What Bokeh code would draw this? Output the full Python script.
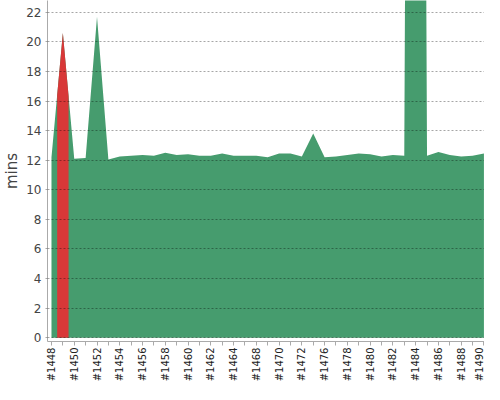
import math
from bokeh.plotting import figure
from bokeh.models import Range1d, FixedTicker
from bokeh.embed import file_html
from bokeh.resources import INLINE

# ---- data ----
builds = [1448, 1449, 1450, 1451, 1452, 1453, 1454, 1455, 1456, 1457,
          1458, 1459, 1460, 1461, 1462, 1463, 1464, 1466, 1468, 1469,
          1470, 1471, 1472, 1474, 1476, 1477, 1478, 1479, 1480, 1481,
          1482, 1483, 1484, 1485, 1486, 1487, 1488, 1489, 1490]
durations = [12.2, 20.6, 12.1, 12.15, 21.7, 12.05, 12.25, 12.3, 12.35, 12.3,
             12.5, 12.35, 12.4, 12.3, 12.3, 12.45, 12.3, 12.3, 12.3, 12.2,
             12.45, 12.45, 12.25, 13.8, 12.2, 12.25, 12.35, 12.45, 12.4, 12.25,
             12.35, 12.3, 180.0, 12.3, 12.55, 12.35, 12.25, 12.3, 12.45]
statuses = ["success", "failure"] + ["success"] * 37
y_ticks = [0, 2, 4, 6, 8, 10, 12, 14, 16, 18, 20, 22]

GREEN = "#469c6e"
RED = "#d83838"

n = len(builds)
idx = list(range(n))
labels = ["#%d" % b for b in builds]

p = figure(width=484, height=384, output_backend="svg", toolbar_location=None,
           x_range=Range1d(-0.35, n - 1 + 0.05), y_range=Range1d(-0.26, 22.8),
           min_border_left=39, min_border_right=0, min_border_top=0,
           min_border_bottom=0)
p.outline_line_color = None
p.background_fill_color = "white"

# whole series in green
p.varea(x=idx, y1=0, y2=durations, fill_color=GREEN)

# failed builds coloured from mid-point to mid-point
xs, ys = [], []
for i, s in enumerate(statuses):
    if s != "failure":
        continue
    lo = max(i - 1, 0)
    hi = min(i + 1, n - 1)
    xl = max(i - 0.5, 0)
    xr = min(i + 0.5, n - 1)
    yl = (durations[i] + durations[lo]) / 2
    yr = (durations[i] + durations[hi]) / 2
    xs.append([xl, i, xr, xr, xl])
    ys.append([yl, durations[i], yr, 0, 0])
p.patches(xs=xs, ys=ys, fill_color=RED, line_color=None)

# axes
p.yaxis.ticker = FixedTicker(ticks=y_ticks)
p.yaxis.axis_label = "mins"
p.yaxis.axis_label_text_font = "DejaVu Sans"
p.yaxis.axis_label_text_font_size = "15px"
p.yaxis.axis_label_text_font_style = "normal"
p.yaxis.axis_label_text_color = "#444444"
p.yaxis.axis_label_standoff = 2
p.yaxis.major_label_text_font = "DejaVu Sans"
p.yaxis.major_label_text_font_size = "12px"
p.yaxis.major_label_text_color = "#444444"
p.yaxis.major_label_standoff = 4
p.yaxis.major_tick_out = 2
p.yaxis.major_tick_in = 0
p.yaxis.major_tick_line_color = "#aaaaaa"
p.yaxis.minor_tick_line_color = None
p.yaxis.axis_line_color = "#aaaaaa"

p.xaxis.ticker = FixedTicker(ticks=idx)
p.xaxis.major_label_overrides = {i: (labels[i] if i % 2 == 0 else "") for i in idx}
p.xaxis.major_label_orientation = math.pi / 2
p.xaxis.major_label_text_font = "DejaVu Sans"
p.xaxis.major_label_text_font_size = "10px"
p.xaxis.major_label_text_color = "#222222"
p.xaxis.major_label_standoff = 2
p.xaxis.major_tick_out = 4
p.xaxis.major_tick_in = 0
p.xaxis.major_tick_line_color = "#aaaaaa"
p.xaxis.minor_tick_line_color = None
p.xaxis.axis_line_color = "#aaaaaa"

p.xgrid.visible = False
p.ygrid.grid_line_color = "black"
p.ygrid.grid_line_alpha = 0.35
p.ygrid.grid_line_dash = "2 2"
p.ygrid.level = "overlay"

open("out.html", "w").write(file_html(p, INLINE))
